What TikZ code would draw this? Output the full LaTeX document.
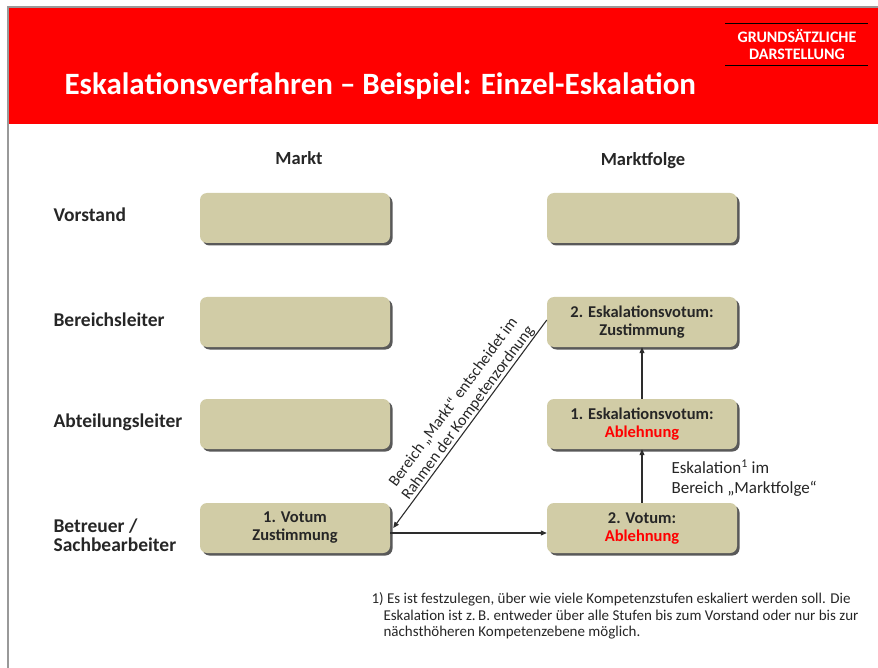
\documentclass[tikz,border=0pt]{standalone}
\usepackage{fontspec}
\setmainfont{Carlito}
\usetikzlibrary{arrows.meta,shadows}
\definecolor{sred}{RGB}{255,0,0}
\definecolor{votum}{RGB}{209,204,166}
\definecolor{linie}{RGB}{45,45,45}
\begin{document}
\begin{tikzpicture}[
    x=1pt, y=-1pt,
    box/.style={rectangle, rounded corners=7pt, fill=votum, minimum width=190pt, minimum height=50pt,
        align=center, font=\bfseries\fontsize{16.5}{18}\selectfont, text=black!85,
        drop shadow={shadow xshift=2.5pt, shadow yshift=-2.5pt, fill=black!65, opacity=1}},
    ebene/.style={anchor=west, align=left, font=\bfseries\fontsize{19.5}{19}\selectfont, text=black!85},
    spalte/.style={font=\bfseries\fontsize{18.5}{20}\selectfont, text=black!85},
    pfeil/.style={-{Triangle[length=6pt,width=5pt]}, linie, line width=1.1pt}
]
    \useasboundingbox (0,0) rectangle (878,668);
    % Kopf
    \fill[sred] (9,8) rectangle (878,124);
    \draw[gray!80, line width=2pt] (8,668) -- (8,7) -- (878,7);
    \node[anchor=base west, text=white, font=\bfseries\fontsize{31}{34}\selectfont] (titel) at (61,95)
        {Eskalationsverfahren – Beispiel: Einzel-Eskalation};
    \node[text=white, align=center, font=\bfseries\fontsize{16}{17}\selectfont] (art) at (797,45)
        {GRUNDSÄTZLICHE\\DARSTELLUNG};
    \draw[black, line width=1pt] (725,24) -- (868,24);
    \draw[black, line width=1pt] (725,66) -- (868,66);

    % Spalten und Ebenen
    \node[spalte] (markt) at (299,158) {Markt};
    \node[spalte] (folge) at (643,161) {Marktfolge};
    \node[ebene] (vorstand) at (50,215) {Vorstand};
    \node[ebene] (bereich) at (50,320) {Bereichsleiter};
    \node[ebene] (abteilung) at (50,422) {Abteilungsleiter};
    \node[ebene] (betreuer) at (50,535) {Betreuer /\\Sachbearbeiter};

    % Kaesten
    \node[box] (m4) at (295,218) {};
    \node[box] (m3) at (295,322) {};
    \node[box] (m2) at (295,424) {};
    \node[box] (m1) at (295,528) {1. Votum\\Zustimmung};
    \node[box] (f4) at (642,218) {};
    \node[box] (f3) at (642,322) {2. Eskalationsvotum:\\Zustimmung};
    \node[box] (f2) at (642,424) {1. Eskalationsvotum:\\\textcolor{sred}{Ablehnung}};
    \node[box] (f1) at (642,528) {2. Votum:\\\textcolor{sred}{Ablehnung}};

    % Pfeile
    \draw[pfeil] ([yshift=-5pt]m1.east) -- ([yshift=-5pt]f1.west);
    \draw[pfeil] (f1) -- (f2);
    \draw[pfeil] (f2) -- (f3);
    \draw[pfeil] ([yshift=2pt]f3.west) -- node[pos=0.47, sloped, above, align=center, inner sep=0.5pt,
        font=\fontsize{16}{18}\selectfont, text=black!85]
        {Bereich „Markt“ entscheidet im\\Rahmen der Kompetenzordnung} ([xshift=3pt]m1.east);

    % Texte
    \node[anchor=north west, align=left, font=\fontsize{17}{20}\selectfont, text=black!85] (esk) at (668,456)
        {Eskalation\textsuperscript{1} im\\Bereich „Marktfolge“};
    \node[anchor=north west, align=left, font=\fontsize{15}{16.5}\selectfont, text=black!85] (fn) at (368,589)
        {1) Es ist festzulegen, über wie viele Kompetenzstufen eskaliert werden soll. Die\\
        \hspace*{12pt}Eskalation ist z.\,B. entweder über alle Stufen bis zum Vorstand oder nur bis zur\\
        \hspace*{12pt}nächsthöheren Kompetenzebene möglich.};
\end{tikzpicture}
\end{document}
